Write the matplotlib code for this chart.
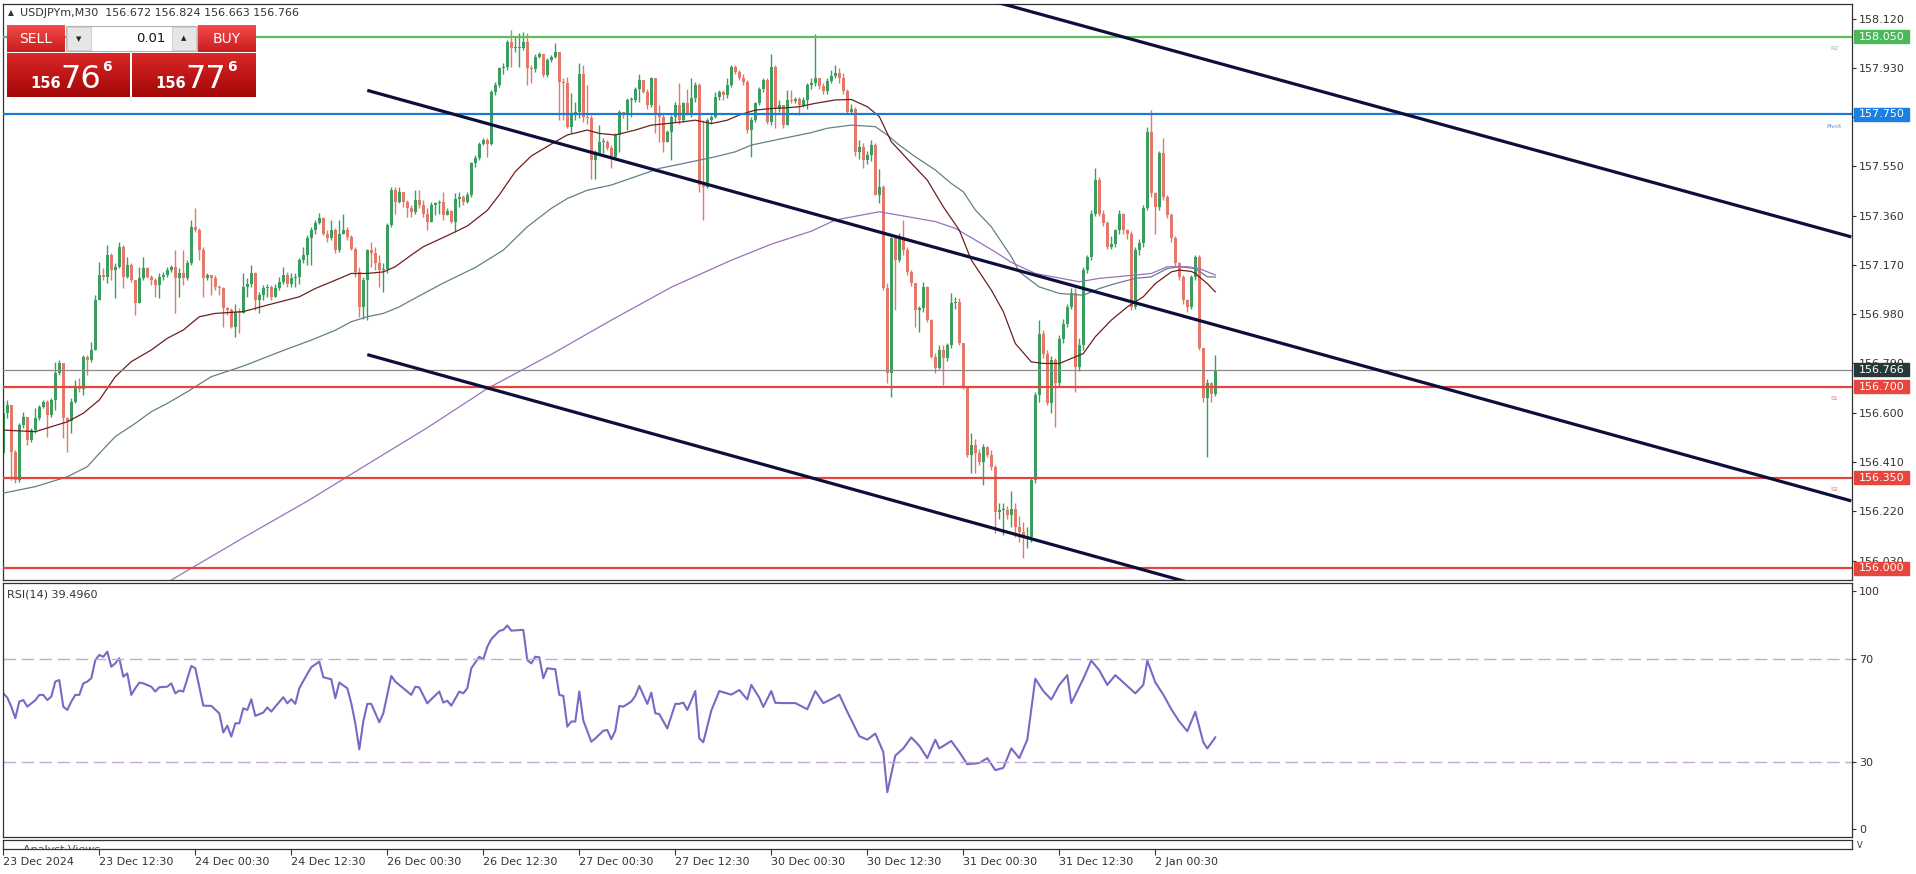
import numpy as np
import matplotlib.pyplot as plt
from matplotlib.patches import Rectangle
from matplotlib.colors import LinearSegmentedColormap

# USDJPYm M30 candles, one value per bar (bar 0 = 23 Dec 00:30)
first_open = 156.443
close = [
    156.598, 156.630, 156.450, 156.340, 156.553, 156.585, 156.495, 156.533, 156.578, 156.623, 156.643, 156.591,
    156.649, 156.752, 156.790, 156.578, 156.569, 156.643, 156.694, 156.690, 156.816, 156.803, 156.842, 157.035,
    157.131, 157.122, 157.208, 157.150, 157.163, 157.240, 157.125, 157.170, 157.112, 157.022, 157.118, 157.157,
    157.125, 157.112, 157.093, 157.125, 157.131, 157.150, 157.163, 157.118, 157.137, 157.118, 157.176, 157.317,
    157.305, 157.227, 157.118, 157.131, 157.118, 157.086, 157.079, 157.002, 156.996, 156.931, 156.989, 156.985,
    157.086, 157.098, 157.137, 157.034, 157.053, 157.079, 157.086, 157.047, 157.079, 157.105, 157.131, 157.098,
    157.118, 157.124, 157.188, 157.208, 157.272, 157.304, 157.330, 157.349, 157.291, 157.272, 157.304, 157.227,
    157.291, 157.304, 157.278, 157.233, 157.143, 157.008, 157.111, 157.227, 157.214, 157.176, 157.150, 157.156,
    157.323, 157.458, 157.413, 157.452, 157.413, 157.388, 157.375, 157.420, 157.401, 157.368, 157.336, 157.401,
    157.407, 157.413, 157.362, 157.379, 157.336, 157.426, 157.433, 157.413, 157.439, 157.561, 157.581, 157.638,
    157.651, 157.638, 157.838, 157.863, 157.928, 157.934, 158.030, 158.005, 158.005, 158.005, 158.030, 157.928,
    157.924, 157.973, 157.985, 157.902, 157.960, 157.973, 157.992, 157.876, 157.870, 157.703, 157.754, 157.760,
    157.908, 157.741, 157.735, 157.574, 157.600, 157.645, 157.645, 157.619, 157.587, 157.671, 157.760, 157.748,
    157.805, 157.805, 157.850, 157.883, 157.838, 157.786, 157.889, 157.754, 157.741, 157.645, 157.683, 157.741,
    157.786, 157.728, 157.793, 157.754, 157.812, 157.863, 157.478, 157.471, 157.728, 157.741, 157.818, 157.838,
    157.825, 157.863, 157.934, 157.915, 157.889, 157.876, 157.690, 157.728, 157.793, 157.850, 157.883, 157.722,
    157.934, 157.773, 157.786, 157.709, 157.805, 157.803, 157.808, 157.786, 157.805, 157.863, 157.870, 157.890,
    157.860, 157.840, 157.880, 157.900, 157.910, 157.890, 157.840, 157.760, 157.770, 157.607, 157.626, 157.575,
    157.594, 157.632, 157.439, 157.472, 157.080, 156.752, 157.272, 157.189, 157.279, 157.227, 157.144, 157.099,
    156.996, 157.002, 157.086, 156.958, 156.816, 156.771, 156.842, 156.810, 156.861, 157.022, 157.028, 156.867,
    156.694, 156.437, 156.475, 156.443, 156.411, 156.469, 156.437, 156.392, 156.218, 156.225, 156.225, 156.206,
    156.230, 156.160, 156.140, 156.120, 156.120, 156.340, 156.668, 156.905, 156.828, 156.636, 156.803, 156.713,
    156.886, 156.944, 157.008, 157.060, 156.777, 156.861, 157.150, 157.201, 157.368, 157.497, 157.368, 157.330,
    157.240, 157.250, 157.304, 157.368, 157.304, 157.291, 157.008, 157.227, 157.253, 157.388, 157.683, 157.446,
    157.394, 157.600, 157.433, 157.362, 157.272, 157.176, 157.124, 157.034, 157.008, 157.124, 157.201, 156.848,
    156.655, 156.713, 156.672, 156.766,
]
high = [
    156.649, 156.649, 156.630, 156.456, 156.559, 156.604, 156.585, 156.540, 156.617, 156.630, 156.649, 156.649,
    156.655, 156.797, 156.803, 156.790, 156.585, 156.655, 156.726, 156.733, 156.823, 156.823, 156.874, 157.054,
    157.183, 157.157, 157.247, 157.215, 157.176, 157.260, 157.247, 157.202, 157.176, 157.112, 157.163, 157.202,
    157.163, 157.131, 157.118, 157.137, 157.144, 157.163, 157.170, 157.227, 157.157, 157.227, 157.189, 157.343,
    157.388, 157.311, 157.240, 157.137, 157.131, 157.131, 157.092, 157.086, 157.008, 157.002, 157.021, 157.002,
    157.137, 157.118, 157.169, 157.143, 157.066, 157.092, 157.098, 157.092, 157.098, 157.124, 157.163, 157.143,
    157.137, 157.137, 157.195, 157.240, 157.285, 157.317, 157.343, 157.371, 157.356, 157.304, 157.343, 157.311,
    157.343, 157.368, 157.317, 157.285, 157.240, 157.163, 157.124, 157.233, 157.259, 157.240, 157.208, 157.176,
    157.330, 157.471, 157.471, 157.471, 157.452, 157.420, 157.401, 157.458, 157.458, 157.420, 157.388, 157.413,
    157.413, 157.420, 157.452, 157.388, 157.381, 157.446, 157.452, 157.439, 157.452, 157.568, 157.593, 157.645,
    157.658, 157.658, 157.844, 157.876, 157.934, 157.947, 158.037, 158.075, 158.050, 158.063, 158.069, 158.063,
    157.940, 157.985, 157.992, 157.985, 157.966, 157.979, 158.024, 157.934, 157.889, 157.895, 157.831, 157.799,
    157.947, 157.940, 157.863, 157.748, 157.613, 157.709, 157.658, 157.651, 157.632, 157.677, 157.767, 157.760,
    157.812, 157.818, 157.857, 157.908, 157.883, 157.850, 157.895, 157.883, 157.786, 157.754, 157.690, 157.748,
    157.799, 157.870, 157.799, 157.850, 157.889, 157.876, 157.870, 157.728, 157.735, 157.748, 157.838, 157.844,
    157.844, 157.889, 157.940, 157.940, 157.921, 157.908, 157.883, 157.741, 157.799, 157.857, 157.889, 157.889,
    157.985, 157.940, 157.805, 157.786, 157.844, 157.844, 157.818, 157.818, 157.818, 157.870, 157.890, 158.060,
    157.890, 157.870, 157.890, 157.920, 157.940, 157.930, 157.910, 157.850, 157.790, 157.780, 157.650, 157.640,
    157.610, 157.650, 157.640, 157.540, 157.480, 157.100, 157.279, 157.280, 157.292, 157.343, 157.240, 157.150,
    157.100, 157.010, 157.105, 157.090, 156.960, 156.830, 156.860, 156.860, 156.870, 157.060, 157.047, 157.041,
    156.870, 156.700, 156.520, 156.500, 156.460, 156.480, 156.470, 156.456, 156.400, 156.250, 156.250, 156.240,
    156.300, 156.250, 156.200, 156.180, 156.160, 156.350, 156.680, 156.957, 156.920, 156.840, 156.820, 156.810,
    156.900, 156.960, 157.020, 157.080, 157.080, 156.890, 157.160, 157.210, 157.380, 157.542, 157.510, 157.380,
    157.340, 157.280, 157.310, 157.380, 157.370, 157.310, 157.300, 157.240, 157.270, 157.400, 157.700, 157.767,
    157.450, 157.610, 157.658, 157.440, 157.370, 157.280, 157.180, 157.130, 157.040, 157.130, 157.210, 157.210,
    156.850, 156.730, 156.720, 156.824,
]
low = [
    156.443, 156.578, 156.340, 156.328, 156.334, 156.540, 156.476, 156.488, 156.520, 156.572, 156.617, 156.508,
    156.585, 156.611, 156.745, 156.501, 156.450, 156.520, 156.636, 156.681, 156.668, 156.745, 156.797, 156.842,
    157.035, 157.112, 157.099, 157.112, 157.041, 157.157, 157.080, 157.118, 157.105, 156.977, 157.022, 157.112,
    157.118, 157.093, 157.048, 157.041, 157.112, 157.125, 157.144, 156.983, 157.048, 157.093, 157.112, 157.170,
    157.298, 157.189, 157.048, 157.112, 157.053, 157.073, 157.053, 156.931, 156.976, 156.925, 156.893, 156.906,
    156.983, 157.047, 157.086, 156.996, 156.983, 157.034, 157.047, 157.034, 157.047, 157.073, 157.098, 157.086,
    157.086, 157.086, 157.098, 157.176, 157.169, 157.169, 157.291, 157.327, 157.285, 157.259, 157.266, 157.214,
    157.221, 157.291, 157.266, 157.227, 157.124, 156.970, 156.963, 156.957, 157.163, 157.150, 157.086, 157.066,
    157.137, 157.317, 157.368, 157.407, 157.394, 157.356, 157.356, 157.368, 157.388, 157.356, 157.304, 157.343,
    157.362, 157.368, 157.343, 157.362, 157.330, 157.298, 157.394, 157.401, 157.407, 157.433, 157.548, 157.574,
    157.632, 157.587, 157.632, 157.825, 157.857, 157.908, 157.921, 157.934, 157.992, 157.934, 157.998, 157.863,
    157.870, 157.915, 157.966, 157.895, 157.895, 157.953, 157.966, 157.728, 157.728, 157.696, 157.677, 157.728,
    157.735, 157.722, 157.715, 157.503, 157.503, 157.593, 157.600, 157.613, 157.542, 157.581, 157.606, 157.735,
    157.690, 157.741, 157.799, 157.799, 157.831, 157.773, 157.780, 157.677, 157.645, 157.606, 157.645, 157.574,
    157.722, 157.715, 157.722, 157.748, 157.741, 157.799, 157.450, 157.343, 157.465, 157.715, 157.735, 157.805,
    157.805, 157.812, 157.857, 157.908, 157.883, 157.863, 157.677, 157.587, 157.722, 157.786, 157.838, 157.715,
    157.709, 157.696, 157.760, 157.696, 157.722, 157.793, 157.793, 157.748, 157.780, 157.773, 157.850, 157.860,
    157.850, 157.830, 157.830, 157.870, 157.890, 157.870, 157.830, 157.750, 157.750, 157.590, 157.580, 157.542,
    157.560, 157.570, 157.446, 157.407, 157.073, 156.713, 156.662, 156.996, 157.180, 157.210, 157.130, 157.090,
    156.932, 156.913, 156.990, 156.950, 156.810, 156.752, 156.770, 156.707, 156.800, 156.850, 157.000, 156.860,
    156.690, 156.430, 156.366, 156.366, 156.400, 156.321, 156.430, 156.380, 156.135, 156.190, 156.129, 156.190,
    156.160, 156.120, 156.100, 156.040, 156.080, 156.100, 156.330, 156.640, 156.810, 156.630, 156.600, 156.546,
    156.700, 156.870, 156.930, 157.000, 156.681, 156.760, 156.840, 157.140, 157.190, 157.360, 157.360, 157.320,
    157.230, 157.230, 157.240, 157.290, 157.290, 157.270, 156.995, 157.000, 157.210, 157.240, 157.380, 157.430,
    157.291, 157.380, 157.420, 157.350, 157.260, 157.160, 157.110, 157.020, 156.990, 157.000, 157.110, 156.840,
    156.640, 156.430, 156.640, 156.663,
]

# moving averages (bar, price)
ma_fast_bar = [0, 8, 12, 16, 20, 24, 28, 32, 37, 41, 45, 49, 53, 60, 66, 74, 78, 83, 87, 91, 95, 98, 102, 105,
               112, 116, 121, 124, 128, 132, 138, 141, 146, 149, 153, 158, 162, 166, 170, 173, 177, 181, 184,
               188, 192, 196, 199, 203, 208, 212, 216, 219, 222, 227, 231, 235, 239, 242, 247, 250, 253, 257,
               260, 264, 267, 270, 273, 277, 281, 285, 288, 292, 294, 297, 298, 301, 303]
ma_fast = [156.533, 156.527, 156.546, 156.565, 156.598, 156.649, 156.739, 156.797, 156.842, 156.887, 156.919,
           156.970, 156.983, 156.990, 157.015, 157.047, 157.079, 157.111, 157.137, 157.137, 157.143, 157.163,
           157.208, 157.240, 157.290, 157.320, 157.380, 157.440, 157.530, 157.590, 157.645, 157.671, 157.690,
           157.677, 157.671, 157.690, 157.709, 157.715, 157.722, 157.728, 157.715, 157.728, 157.748, 157.767,
           157.773, 157.776, 157.780, 157.793, 157.806, 157.808, 157.780, 157.742, 157.645, 157.562, 157.497,
           157.394, 157.304, 157.189, 157.073, 156.990, 156.867, 156.796, 156.790, 156.790, 156.809, 156.828,
           156.893, 156.957, 157.008, 157.047, 157.098, 157.143, 157.150, 157.145, 157.137, 157.098, 157.066]
ma_mid_bar = [0, 8, 16, 21, 24, 28, 33, 37, 41, 46, 52, 60, 70, 77, 83, 87, 91, 95, 99, 102, 110, 118, 125,
              131, 137, 141, 146, 152, 158, 164, 170, 174, 178, 183, 187, 191, 195, 202, 206, 212, 218, 221,
              224, 228, 233, 237, 240, 243, 247, 252, 254, 259, 264, 270, 274, 278, 283, 287, 291, 294, 298,
              301, 303]
ma_mid = [156.290, 156.315, 156.353, 156.392, 156.443, 156.508, 156.559, 156.604, 156.636, 156.681, 156.739,
          156.780, 156.840, 156.880, 156.918, 156.951, 156.970, 156.983, 157.008, 157.034, 157.100, 157.160,
          157.227, 157.317, 157.388, 157.426, 157.458, 157.478, 157.510, 157.542, 157.561, 157.574, 157.587,
          157.606, 157.632, 157.645, 157.658, 157.680, 157.697, 157.709, 157.703, 157.671, 157.632, 157.587,
          157.536, 157.484, 157.452, 157.382, 157.317, 157.202, 157.143, 157.085, 157.060, 157.053, 157.079,
          157.098, 157.118, 157.124, 157.156, 157.163, 157.156, 157.124, 157.123]
ma_slow_bar = [42, 60, 76, 91, 106, 121, 137, 152, 167, 182, 192, 202, 208, 219, 226, 233, 238, 243, 248, 252,
               258, 269, 274, 283, 287, 291, 296, 299, 303]
ma_slow = [155.955, 156.118, 156.259, 156.401, 156.542, 156.693, 156.825, 156.957, 157.084, 157.188, 157.250,
           157.300, 157.343, 157.375, 157.356, 157.337, 157.311, 157.266, 157.220, 157.180, 157.137, 157.105,
           157.118, 157.131, 157.137, 157.163, 157.163, 157.156, 157.131]

# channel lines (bar, price) end points
chan_top = [(245, 158.197), (462, 157.278)]
chan_mid = [(91, 157.843), (462, 156.260)]
chan_low = [(91, 156.824), (300, 155.930)]

# pivot levels
levels = [("R2", 158.050, "#5cbf5c", "#4cb85a"), ("Pivot", 157.750, "#1f78d2", "#1a7fe0"),
          ("S1", 156.700, "#e2463d", "#e8453c"), ("S2", 156.350, "#e2463d", "#e8453c"),
          ("", 156.000, "#e2463d", "#e8453c")]
last_price = 156.766

# RSI(14) (bar, value)
rsi_bar = [0, 1, 2, 3, 4, 5, 6, 7, 8, 9, 10, 11, 12, 13, 14, 15, 16, 17, 18, 19, 20, 21, 22, 23, 24, 25, 26, 27,
           28, 29, 30, 31, 32, 33, 34, 35, 37, 38, 39, 41, 42, 43, 44, 45, 47, 48, 50, 52, 54, 55, 56, 57, 58,
           59, 60, 61, 62, 63, 65, 66, 67, 68, 70, 71, 72, 73, 74, 76, 77, 79, 80, 82, 83, 84, 86, 87, 88, 89,
           90, 91, 92, 94, 95, 97, 98, 100, 102, 103, 104, 106, 107, 109, 110, 111, 112, 114, 115, 116, 117,
           119, 120, 121, 122, 124, 125, 126, 127, 130, 131, 132, 133, 134, 135, 136, 138, 139, 140, 141, 142,
           143, 144, 145, 147, 148, 150, 151, 152, 153, 154, 155, 157, 158, 159, 160, 161, 162, 163, 164, 166,
           168, 169, 170, 171, 173, 174, 175, 177, 179, 182, 184, 186, 187, 189, 190, 192, 193, 195, 198, 201,
           203, 205, 208, 209, 211, 214, 216, 218, 220, 221, 223, 225, 227, 229, 231, 233, 234, 237, 239, 241,
           244, 246, 248, 250, 252, 254, 256, 258, 260, 262, 264, 266, 267, 270, 272, 274, 276, 278, 280, 283,
           285, 286, 288, 290, 292, 294, 296, 298, 300, 301, 303]
rsi_val = [56.7, 55.0, 51.5, 47.0, 53.5, 54.1, 51.5, 52.8, 54.0, 56.1, 56.1, 54.1, 55.4, 61.3, 61.9, 51.5, 50.2,
           53.5, 56.1, 56.1, 60.6, 61.3, 62.6, 69.7, 71.7, 71.0, 73.0, 67.1, 68.4, 70.4, 63.2, 64.5, 56.1, 58.7,
           60.9, 60.6, 59.3, 57.4, 59.1, 59.3, 60.6, 56.7, 57.8, 57.4, 67.4, 66.5, 51.9, 51.8, 48.9, 41.4, 44.1,
           39.8, 45.0, 45.0, 50.9, 50.2, 54.4, 47.9, 49.2, 51.2, 49.6, 51.5, 55.2, 52.8, 54.4, 52.6, 58.7, 64.3,
           66.9, 69.1, 63.0, 62.2, 54.8, 60.9, 58.7, 52.8, 45.0, 34.8, 45.7, 52.6, 52.6, 45.4, 48.9, 63.5, 61.3,
           58.7, 56.1, 59.3, 59.0, 52.8, 54.4, 57.4, 53.1, 53.8, 51.9, 57.4, 56.7, 58.7, 66.5, 71.0, 70.0, 74.9,
           77.9, 81.1, 81.5, 83.2, 81.2, 81.5, 69.7, 68.4, 71.0, 70.8, 62.6, 66.5, 66.1, 56.1, 55.7, 43.7, 45.7,
           45.7, 57.4, 46.1, 37.8, 39.1, 42.1, 42.4, 38.8, 42.1, 51.8, 51.5, 53.5, 55.7, 59.6, 56.1, 52.6, 57.0,
           48.9, 48.6, 43.0, 52.6, 52.6, 53.1, 50.2, 57.6, 39.1, 37.6, 50.0, 57.6, 56.2, 58.0, 54.3, 60.0, 55.0,
           51.4, 57.6, 53.0, 52.9, 52.9, 50.5, 57.6, 52.9, 55.2, 56.2, 49.5, 40.0, 38.6, 41.0, 33.8, 18.1, 32.4,
           35.2, 39.5, 36.2, 31.4, 38.6, 35.2, 38.1, 33.8, 29.0, 29.5, 31.4, 26.7, 27.6, 35.2, 31.4, 38.6, 62.4,
           57.6, 54.3, 60.0, 63.8, 52.9, 62.4, 69.5, 65.7, 60.0, 63.8, 61.0, 56.7, 60.0, 69.5, 61.0, 56.2, 50.5,
           45.7, 41.9, 49.5, 37.6, 35.2, 39.5]

date_bars = [0, 24, 48, 72, 96, 120, 144, 168, 192, 216, 240, 264, 288]
date_labels = ["23 Dec 2024", "23 Dec 12:30", "24 Dec 00:30", "24 Dec 12:30", "26 Dec 00:30", "26 Dec 12:30",
               "27 Dec 00:30", "27 Dec 12:30", "30 Dec 00:30", "30 Dec 12:30", "31 Dec 00:30", "31 Dec 12:30",
               "2 Jan 00:30"]
price_ticks = [158.120, 157.930, 157.740, 157.550, 157.360, 157.170, 156.980, 156.790, 156.600, 156.410,
               156.220, 156.030]

W, H = 1916, 874
TXT = "#333333"
fig = plt.figure(figsize=(W / 100, H / 100), dpi=100)


def frac(x0, y0, x1, y1):
    return [x0 / W, 1 - y1 / H, (x1 - x0) / W, (y1 - y0) / H]


ax = fig.add_axes(frac(3, 4, 1852, 580))
ax_rsi = fig.add_axes(frac(3, 583, 1852, 837))
ax_av = fig.add_axes(frac(3, 840, 1852, 849))
xlim = (-0.075, -0.075 + 1849 / 4)
for a in (ax, ax_rsi, ax_av):
    a.set_xlim(*xlim)
    for s in a.spines.values():
        s.set_color(TXT)
        s.set_linewidth(0.9)

# candles
x = np.arange(len(close))
c = np.array(close)
o = np.r_[first_open, c[:-1]]
h = np.maximum(np.array(high), np.maximum(o, c))
l = np.minimum(np.array(low), np.minimum(o, c))
cols = np.where(c >= o, "#3a9e60", "#e4796b")
ax.vlines(x, l, h, colors=cols, lw=1, zorder=2)
ax.bar(x, np.maximum(np.abs(c - o), 0.004), bottom=np.minimum(o, c), width=0.68, color=cols,
       linewidth=0, zorder=2)

ax.plot(ma_mid_bar, ma_mid, color="#62808a", lw=0.9, zorder=3)
ax.plot(ma_slow_bar, ma_slow, color="#9a72b8", lw=0.9, zorder=3)
ax.plot(ma_fast_bar, ma_fast, color="#6e1f1f", lw=0.9, zorder=3)

for name, y, lc, bc in levels:
    ax.axhline(y, color=lc, lw=1.6, zorder=4)
ax.axhline(last_price, color="#8a8a8a", lw=0.9, zorder=4)

for ch in (chan_top, chan_mid, chan_low):
    ax.plot([p[0] for p in ch], [p[1] for p in ch], color="#0e0e3c", lw=2.3, zorder=5,
            solid_capstyle="butt")

ax.set_ylim(155.955, 158.176)
ax.set_xticks([])
ax.yaxis.tick_right()
ax.set_yticks(price_ticks)
ax.set_yticklabels([f"{t:.3f}" for t in price_ticks])
ax.tick_params(axis="y", direction="out", length=3, width=0.8, colors=TXT, labelsize=8, pad=2)

ytr = ax.get_yaxis_transform()


def price_box(y, txt, color):
    ax.add_patch(Rectangle((1.0011, y - 0.025), 0.0297, 0.05, transform=ytr, color=color,
                           clip_on=False, zorder=10))
    ax.text(1.0035, y, txt, transform=ytr, color="white", fontsize=8, va="center", ha="left",
            clip_on=False, zorder=11)


for name, y, lc, bc in levels:
    price_box(y, f"{y:.3f}", bc)
    if name:
        ax.text(0.9905, y - 0.045, name, transform=ytr, color=lc, fontsize=4.5, ha="center",
                va="center", alpha=0.8)
price_box(last_price, f"{last_price:.3f}", "#263838")

# RSI panel
ax_rsi.plot(rsi_bar, rsi_val, color="#7b68c6", lw=1.5)
for lvl in (70, 30):
    ax_rsi.axhline(lvl, color="#c6a9d6", lw=1, dashes=(9, 4))
ax_rsi.set_ylim(0.6, 99.8)
ax_rsi.set_xticks([])
ax_rsi.yaxis.tick_right()
ax_rsi.set_yticks([3.7, 30, 70, 96.7])
ax_rsi.set_yticklabels(["0", "30", "70", "100"])
ax_rsi.tick_params(axis="y", direction="out", length=3, width=0.8, colors=TXT, labelsize=8, pad=2)
ax_rsi.text(0.002, 0.955, "RSI(14) 39.4960", transform=ax_rsi.transAxes, fontsize=8, color=TXT,
            va="center", ha="left")

# analyst views strip + time axis
ax_av.set_yticks([])
ax_av.text(0.011, -0.1, "Analyst Views", transform=ax_av.transAxes, fontsize=8, color="#555555",
           va="center", ha="left", clip_on=True)
ax_av.set_xticks(date_bars)
ax_av.set_xticklabels(date_labels)
ax_av.tick_params(axis="x", direction="out", length=4, width=0.8, colors=TXT, labelsize=8, pad=1.5)
for lab in ax_av.get_xticklabels():
    lab.set_horizontalalignment("left")

# overlay: header and one-click trading panel (pixel coordinates)
ov = fig.add_axes([0, 0, 1, 1])
grad = np.linspace(0, 1, 64).reshape(-1, 1)
cm_small = LinearSegmentedColormap.from_list("s", ["#f24b4b", "#c91d1d"])
cm_big = LinearSegmentedColormap.from_list("b", ["#da2727", "#a30707"])
for x0, x1 in [(7, 65), (198, 256)]:
    ov.imshow(grad, cmap=cm_small, extent=[x0, x1, 52, 25], aspect="auto")
for x0, x1 in [(7, 130), (132, 256)]:
    ov.imshow(grad, cmap=cm_big, extent=[x0, x1, 97, 53], aspect="auto")
ov.add_patch(Rectangle((66, 26), 131, 25, facecolor="white", edgecolor="#b5b5b5", lw=0.8))
ov.add_patch(Rectangle((67, 27), 24, 23, facecolor="#e6e6e6", edgecolor="#c8c8c8", lw=0.6))
ov.add_patch(Rectangle((172, 27), 24, 23, facecolor="#e6e6e6", edgecolor="#c8c8c8", lw=0.6))
ov.text(79, 39, "▼", fontsize=5, ha="center", va="center", color="#222222")
ov.text(184, 38, "▲", fontsize=5, ha="center", va="center", color="#222222")
ov.text(166, 39, "0.01", fontsize=9.5, ha="right", va="center", color="#111111")
ov.text(36, 39, "SELL", fontsize=10, ha="center", va="center", color="white")
ov.text(227, 39, "BUY", fontsize=10, ha="center", va="center", color="white")
for x0, big in [(30, "76"), (155, "77")]:
    ov.text(x0, 88, "156", fontsize=10.5, fontweight="bold", ha="left", va="baseline", color="white")
    ov.text(x0 + 30, 88, big, fontsize=23, ha="left", va="baseline", color="white")
    ov.text(x0 + 72, 60, "6", fontsize=10, fontweight="bold", ha="left", va="top", color="white")
ov.text(8, 13, "▲", fontsize=5.5, ha="left", va="center", color=TXT)
ov.text(20, 13, "USDJPYm,M30  156.672 156.824 156.663 156.766", fontsize=8, ha="left",
        va="center", color=TXT)
ov.text(1857, 845, "V", fontsize=6, ha="left", va="center", color=TXT)
ov.set_xlim(0, W)
ov.set_ylim(H, 0)
ov.axis("off")

fig.savefig("out.png", dpi=100)
